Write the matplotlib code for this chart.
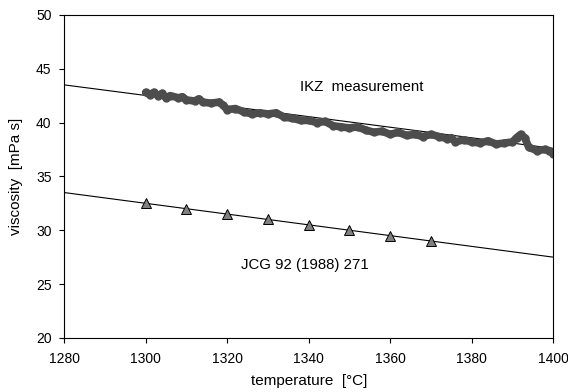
import matplotlib
matplotlib.use("Agg")
import matplotlib.pyplot as plt

plt.rcParams['font.family'] = ['Liberation Sans', 'DejaVu Sans']

ikz_t = [1300, 1301, 1302, 1303, 1304, 1305, 1306, 1308, 1309, 1310,
         1312, 1313, 1314, 1316, 1318, 1319, 1320, 1322, 1324, 1326,
         1328, 1330, 1332, 1334, 1336, 1338, 1340, 1342, 1344, 1346,
         1348, 1350, 1352, 1354, 1356, 1358, 1360, 1362, 1364, 1366,
         1368, 1370, 1372, 1374, 1375, 1376, 1378, 1380, 1382, 1384,
         1386, 1388, 1390, 1391, 1392, 1393, 1394, 1396, 1398, 1399,
         1400]
ikz_v = [42.8, 42.6, 42.8, 42.5, 42.7, 42.3, 42.5, 42.3, 42.4, 42.1,
         42.0, 42.2, 41.9, 41.8, 41.9, 41.6, 41.2, 41.3, 41.0, 40.8,
         40.9, 40.8, 40.9, 40.5, 40.4, 40.2, 40.2, 40.0, 40.1, 39.7,
         39.6, 39.5, 39.6, 39.3, 39.1, 39.2, 38.9, 39.1, 38.8, 38.9,
         38.7, 38.9, 38.7, 38.5, 38.6, 38.2, 38.4, 38.2, 38.1, 38.3,
         38.0, 38.1, 38.2, 38.6, 38.9, 38.6, 37.7, 37.4, 37.5, 37.4,
         37.1]

# fit line through IKZ data
ikz_fit_t = [1280, 1400]
ikz_fit_v = [43.5, 37.6]

# JCG 92 (1988) 271
jcg_t = [1300, 1310, 1320, 1330, 1340, 1350, 1360, 1370]
jcg_v = [32.5, 32.0, 31.5, 31.0, 30.5, 30.0, 29.5, 29.0]
jcg_fit_t = [1280, 1400]
jcg_fit_v = [33.5, 27.5]

fig = plt.figure(figsize=(5.68, 3.92), dpi=100)
ax = fig.add_axes([0.113, 0.138, 0.861, 0.824])

ax.plot(ikz_fit_t, ikz_fit_v, color='black', lw=0.8)
ax.plot(ikz_t, ikz_v, color='#4d4d4d', lw=5.5, marker='o', markersize=5,
        solid_capstyle='round', solid_joinstyle='round')
ax.plot(jcg_fit_t, jcg_fit_v, color='black', lw=0.8)
ax.plot(jcg_t, jcg_v, linestyle='none', marker='^', markersize=6.5,
        markerfacecolor='#808080', markeredgecolor='black', markeredgewidth=0.7)

ax.text(1353, 43.3, "IKZ  measurement", ha='center', va='center', fontsize=10.8)
ax.text(1339, 26.8, "JCG 92 (1988) 271", ha='center', va='center', fontsize=10.8)

ax.set_xlim(1280, 1400)
ax.set_ylim(20, 50)
ax.set_xticks(range(1280, 1401, 20))
ax.set_yticks(range(20, 51, 5))
ax.tick_params(direction='out', length=3.6, width=0.8, labelsize=10)
ax.tick_params(axis='x', pad=6.5)
ax.tick_params(axis='y', pad=5.5)
for s in ax.spines.values():
    s.set_linewidth(0.8)

ax.set_xlabel("temperature  [°C]", fontsize=11, labelpad=6)
ax.set_ylabel("viscosity  [mPa s]", fontsize=11, labelpad=9)

fig.savefig("out.png", dpi=100)
